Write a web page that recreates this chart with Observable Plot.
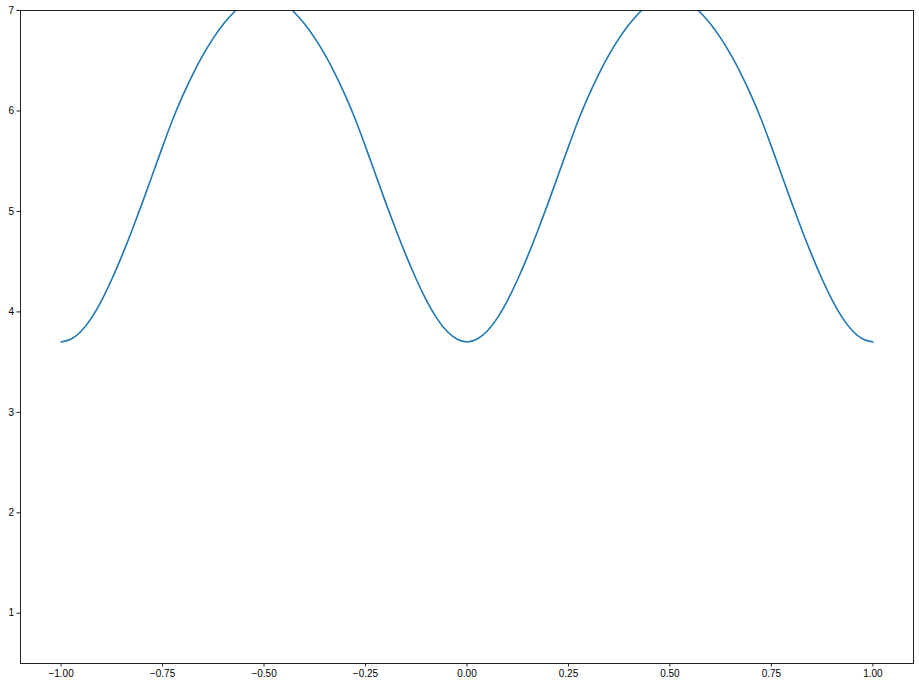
<!DOCTYPE html>
<html>
<head>
<meta charset="utf-8">
<script src="https://cdn.jsdelivr.net/npm/d3@7"></script>
<script src="https://cdn.jsdelivr.net/npm/@observablehq/plot@0.6"></script>
<style>
  html, body { margin: 0; padding: 0; background: #fff; }
  #chart { width: 919px; height: 686px; }
</style>
</head>
<body>
<div id="chart"></div>
<script>
const xValues = [
  -1.000, -0.975, -0.950, -0.925, -0.900, -0.875, -0.850, -0.825, -0.800, -0.775,
  -0.750, -0.725, -0.700, -0.675, -0.650, -0.625, -0.600, -0.575, -0.550, -0.525,
  -0.500, -0.475, -0.450, -0.425, -0.400, -0.375, -0.350, -0.325, -0.300, -0.275,
  -0.250, -0.225, -0.200, -0.175, -0.150, -0.125, -0.100, -0.075, -0.050, -0.025,
   0.000,  0.025,  0.050,  0.075,  0.100,  0.125,  0.150,  0.175,  0.200,  0.225,
   0.250,  0.275,  0.300,  0.325,  0.350,  0.375,  0.400,  0.425,  0.450,  0.475,
   0.500,  0.525,  0.550,  0.575,  0.600,  0.625,  0.650,  0.675,  0.700,  0.725,
   0.750,  0.775,  0.800,  0.825,  0.850,  0.875,  0.900,  0.925,  0.950,  0.975,
   1.000
];
const yValues = [
  3.700, 3.730, 3.810, 3.940, 4.115, 4.325, 4.560, 4.815, 5.085, 5.365,
  5.645, 5.915, 6.155, 6.370, 6.560, 6.725, 6.865, 6.980, 7.065, 7.115,
  7.132, 7.115, 7.065, 6.980, 6.865, 6.725, 6.560, 6.370, 6.155, 5.915,
  5.645, 5.365, 5.085, 4.815, 4.560, 4.325, 4.115, 3.940, 3.810, 3.730,
  3.700, 3.730, 3.810, 3.940, 4.115, 4.325, 4.560, 4.815, 5.085, 5.365,
  5.645, 5.915, 6.155, 6.370, 6.560, 6.725, 6.865, 6.980, 7.065, 7.115,
  7.132, 7.115, 7.065, 6.980, 6.865, 6.725, 6.560, 6.370, 6.155, 5.915,
  5.645, 5.365, 5.085, 4.815, 4.560, 4.325, 4.115, 3.940, 3.810, 3.730,
  3.700
];
const xTicks = [-1.00, -0.75, -0.50, -0.25, 0.00, 0.25, 0.50, 0.75, 1.00];
const yTicks = [1, 2, 3, 4, 5, 6, 7];

const data = xValues.map((x, i) => ({x, y: yValues[i]}));
const fmtX = d3.format(".2f");

const chart = Plot.plot({
  width: 919,
  height: 686,
  marginLeft: 20,
  marginRight: 6,
  marginTop: 10,
  marginBottom: 23,
  style: {fontFamily: "Liberation Sans, Arial, sans-serif", fontSize: "10px", color: "black", background: "white"},
  x: {domain: [-1.1, 1.1], label: null},
  y: {domain: [0.5, 7], label: null},
  marks: [
    Plot.line(data, {x: "x", y: "y", stroke: "#1f77b4", strokeWidth: 1.6, curve: "natural", clip: true}),
    Plot.frame({stroke: "#222", strokeWidth: 1}),
    Plot.axisX({ticks: xTicks, tickFormat: fmtX, tickSize: 3.5, tickPadding: 3, label: null, stroke: "#222"}),
    Plot.axisY({ticks: yTicks, tickFormat: d3.format("d"), tickSize: 3.5, tickPadding: 3, label: null, stroke: "#222"})
  ]
});
document.getElementById("chart").appendChild(chart);
</script>
</body>
</html>
